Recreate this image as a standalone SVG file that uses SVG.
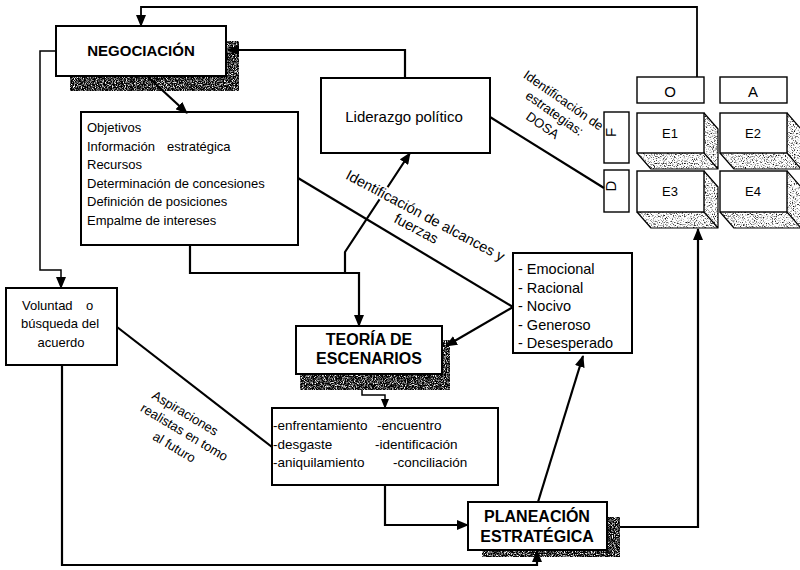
<svg xmlns="http://www.w3.org/2000/svg" width="800" height="570" viewBox="0 0 800 570">
  <defs>
    <style>
      text { font-family: "Liberation Sans", Arial, sans-serif; fill: #000; }
      .box { fill: #fff; stroke: #000; stroke-width: 2; }
      .thin { fill: #fff; stroke: #000; stroke-width: 1.4; }
      .title { font-weight: bold; font-size: 16px; text-anchor: middle; }
      .item { font-size: 13px; }
      .list { font-size: 14.5px; }
      .lbl { font-size: 13px; text-anchor: middle; }
      .cell { font-size: 13px; text-anchor: middle; }
      .head { font-size: 15px; text-anchor: middle; }
      .shadow { fill: #555; filter: url(#grainDark); }
      .face { fill: #ddd; filter: url(#grainLight); }
      .edge { fill: none; stroke: #000; stroke-width: 1.2; stroke-linejoin: round; }
      .wire { fill: none; stroke: #000; stroke-width: 2.2; stroke-linejoin: miter; }
      .wire-thin { fill: none; stroke: #000; stroke-width: 1.5; }
      .halo { stroke: #fff; stroke-width: 4; paint-order: stroke; stroke-linejoin: round; }
    </style>
    <!-- grainy textures for drop shadows and the extruded faces -->
    <filter id="grainDark" color-interpolation-filters="sRGB" x="0" y="0" width="1" height="1">
      <feTurbulence type="fractalNoise" baseFrequency="0.9" numOctaves="2" seed="4" result="n"/>
      <feColorMatrix in="n" type="matrix" values="3.2 0 0 0 -1.4  3.2 0 0 0 -1.4  3.2 0 0 0 -1.4  0 0 0 0 1" result="g"/>
      <feComposite in="g" in2="SourceGraphic" operator="in"/>
    </filter>
    <filter id="grainLight" color-interpolation-filters="sRGB" x="0" y="0" width="1" height="1">
      <feTurbulence type="fractalNoise" baseFrequency="0.9" numOctaves="2" seed="9" result="n"/>
      <feColorMatrix in="n" type="matrix" values="3.2 0 0 0 -0.6  3.2 0 0 0 -0.6  3.2 0 0 0 -0.6  0 0 0 0 1" result="g"/>
      <feComposite in="g" in2="SourceGraphic" operator="in"/>
    </filter>
    <marker id="arrow" markerUnits="userSpaceOnUse" markerWidth="12" markerHeight="10" refX="11" refY="5" orient="auto">
      <path d="M0,0 L12,5 L0,10 z" fill="#000"/>
    </marker>
    <marker id="arrowSmall" markerUnits="userSpaceOnUse" markerWidth="10" markerHeight="8" refX="9" refY="4" orient="auto">
      <path d="M0,0 L10,4 L0,8 z" fill="#000"/>
    </marker>
  </defs>

  <rect width="800" height="570" fill="#fff"/>

  <!-- NEGOCIACIÓN -->
  <g id="negociacion">
    <rect class="shadow" x="70" y="41" width="169" height="50"/>
    <rect class="box" x="56" y="26" width="170" height="50"/>
    <text class="title" x="141" y="56" style="font-size:15px">NEGOCIACIÓN</text>
  </g>

  <!-- Elementos de la negociación -->
  <g id="elementos">
    <rect class="box" x="81" y="112" width="217" height="133"/>
    <text class="item" x="87" y="132">Objetivos</text>
    <text class="item" x="87" y="150.5">Información<tspan x="167">estratégica</tspan></text>
    <text class="item" x="87" y="169">Recursos</text>
    <text class="item" x="87" y="187.5">Determinación de concesiones</text>
    <text class="item" x="87" y="206">Definición de posiciones</text>
    <text class="item" x="87" y="224.5">Empalme de intereses</text>
  </g>

  <!-- Liderazgo político -->
  <g id="liderazgo">
    <rect class="box" x="321" y="78" width="169" height="75"/>
    <text x="404" y="122" style="font-size:15px;text-anchor:middle">Liderazgo político</text>
  </g>

  <!-- Voluntad o búsqueda del acuerdo -->
  <g id="voluntad">
    <rect class="box" x="6" y="288" width="111" height="77"/>
    <text class="item" x="22" y="310">Voluntad<tspan x="86">o</tspan></text>
    <text class="item" x="60" y="328" text-anchor="middle">búsqueda del</text>
    <text class="item" x="61" y="347" text-anchor="middle">acuerdo</text>
  </g>

  <!-- Tipos de actor -->
  <g id="actores">
    <rect class="box" x="513" y="253" width="119" height="100"/>
    <text class="list" x="518" y="274">- Emocional</text>
    <text class="list" x="518" y="292.5">- Racional</text>
    <text class="list" x="518" y="311">- Nocivo</text>
    <text class="list" x="518" y="329.5">- Generoso</text>
    <text class="list" x="518" y="348">- Desesperado</text>
  </g>

  <!-- TEORÍA DE ESCENARIOS -->
  <g id="teoria">
    <rect class="shadow" x="300" y="340" width="150" height="50"/>
    <rect class="box" x="296" y="326" width="146" height="48"/>
    <text class="title" x="369" y="345">TEORÍA DE</text>
    <text class="title" x="369" y="364">ESCENARIOS</text>
  </g>

  <!-- Escenarios -->
  <g id="escenarios">
    <rect class="box" x="272" y="408" width="226" height="77"/>
    <text x="273" y="430" style="font-size:13.5px">-enfrentamiento<tspan x="377">-encuentro</tspan></text>
    <text x="273" y="449" style="font-size:13.5px">-desgaste<tspan x="375">-identificación</tspan></text>
    <text x="273" y="467" style="font-size:13.5px">-aniquilamiento<tspan x="393">-conciliación</tspan></text>
  </g>

  <!-- PLANEACIÓN ESTRATÉGICA -->
  <g id="planeacion">
    <rect class="shadow" x="482" y="517" width="138" height="40"/>
    <rect class="box" x="468" y="502" width="139" height="48"/>
    <text class="title" x="537" y="522">PLANEACIÓN</text>
    <text class="title" x="537" y="542">ESTRATÉGICA</text>
  </g>

  <!-- Label of the link towards the DOFA matrix (partly hidden by row F) -->
  <g id="etiqueta-dosa">
    <text class="lbl" x="561" y="104" transform="rotate(35 561 104)">Identificación de</text>
    <text class="lbl" x="552" y="117" transform="rotate(35 552 117)">estrategias:</text>
    <text class="lbl" x="540" y="129" transform="rotate(35 540 129)">DOSA</text>
  </g>

  <!-- Matriz DOFA -->
  <g id="matriz">
    <g id="col-O">
      <rect class="thin" x="637" y="77" width="67" height="26"/>
      <text class="head" x="670" y="97">O</text>
    </g>
    <g id="col-A">
      <rect class="thin" x="720" y="77" width="67" height="26"/>
      <text class="head" x="753" y="97">A</text>
    </g>
    <g id="row-F">
      <rect class="thin" x="604" y="112" width="25" height="51"/>
      <text class="head" x="621" y="137.5" transform="rotate(-90 616 137.5)">F</text>
    </g>
    <g id="row-D">
      <rect class="thin" x="604" y="170" width="25" height="42"/>
      <text class="head" x="621" y="191" transform="rotate(-90 616 191)">D</text>
    </g>
    <g id="E1">
      <polygon class="face" points="704,113 718,129 718,169 704,153"/>
      <polygon class="face" points="637,153 704,153 718,169 651,169"/>
      <path class="edge" d="M704,113 L718,129 L718,169 L651,169 L637,153 M704,153 L718,169"/>
      <rect class="thin" x="637" y="113" width="67" height="40"/>
      <text class="cell" x="670" y="138">E1</text>
    </g>
    <g id="E2">
      <polygon class="face" points="787,113 801,129 801,169 787,153"/>
      <polygon class="face" points="720,153 787,153 801,169 734,169"/>
      <path class="edge" d="M787,113 L801,129 L801,169 L734,169 L720,153 M787,153 L801,169"/>
      <rect class="thin" x="720" y="113" width="67" height="40"/>
      <text class="cell" x="753" y="138">E2</text>
    </g>
    <g id="E3">
      <polygon class="face" points="704,171 718,187 718,228 704,212"/>
      <polygon class="face" points="637,212 704,212 718,228 651,228"/>
      <path class="edge" d="M704,171 L718,187 L718,228 L651,228 L637,212 M704,212 L718,228"/>
      <rect class="thin" x="637" y="171" width="67" height="41"/>
      <text class="cell" x="670" y="196">E3</text>
    </g>
    <g id="E4">
      <polygon class="face" points="787,171 801,187 801,228 787,212"/>
      <polygon class="face" points="720,212 787,212 801,228 734,228"/>
      <path class="edge" d="M787,171 L801,187 L801,228 L734,228 L720,212 M787,212 L801,228"/>
      <rect class="thin" x="720" y="171" width="67" height="41"/>
      <text class="cell" x="753" y="196">E4</text>
    </g>
  </g>

  <!-- Connectors -->
  <g id="conectores">
    <!-- retorno de la matriz a la negociación -->
    <polyline class="wire" style="stroke-width:1.8" points="697,77 697,7 141,7 141,26" marker-end="url(#arrow)"/>
    <!-- negociación a voluntad -->
    <polyline class="wire-thin" points="56,51 40,51 40,270 61,270 61,288" marker-end="url(#arrow)"/>
    <!-- negociación a elementos -->
    <line class="wire" x1="148" y1="77" x2="187" y2="113" marker-end="url(#arrow)"/>
    <!-- liderazgo a negociación -->
    <polyline class="wire" points="405,78 405,50 228,50" marker-end="url(#arrow)"/>
    <!-- elementos a teoría -->
    <polyline class="wire" points="190,245 190,273 359,273 359,326" marker-end="url(#arrow)"/>
    <!-- hacia liderazgo -->
    <polyline class="wire" points="345,273 345,252 410,153" marker-end="url(#arrow)"/>
    <!-- elementos a actores -->
    <line class="wire" x1="298" y1="178" x2="513" y2="307"/>
    <!-- actores a teoría -->
    <line class="wire" x1="513" y1="307" x2="446" y2="346" marker-end="url(#arrow)"/>
    <!-- liderazgo a la matriz -->
    <line class="wire" x1="490" y1="117" x2="604" y2="188"/>
    <!-- voluntad a escenarios -->
    <line class="wire" x1="117" y1="327" x2="272" y2="447"/>
    <!-- teoría a escenarios -->
    <polyline class="wire-thin" points="362,390 362,395 385,395 385,408" marker-end="url(#arrowSmall)"/>
    <!-- escenarios a planeación -->
    <polyline class="wire" points="385,485 385,525 468,525" marker-end="url(#arrow)"/>
    <!-- planeación a actores -->
    <line class="wire" x1="538" y1="502" x2="583" y2="356" marker-end="url(#arrow)"/>
    <!-- planeación a la matriz -->
    <polyline class="wire" points="620,527 698,527 698,229" marker-end="url(#arrow)"/>
    <!-- voluntad a planeación -->
    <polyline class="wire" points="62,365 62,565 537,565 537,551" marker-end="url(#arrow)"/>
  </g>

  <!-- Labels drawn over the wires they interrupt -->
  <g id="etiquetas">
    <text class="halo" x="423" y="220" transform="rotate(28 423 220)" style="font-size:14.5px;text-anchor:middle">Identificación de alcances y</text>
    <text class="halo" x="414" y="233" transform="rotate(28 414 233)" style="font-size:14.5px;text-anchor:middle">fuerzas</text>
    <text class="lbl" x="183" y="417" transform="rotate(31 183 417)">Aspiraciones</text>
    <text class="lbl" x="182" y="436" transform="rotate(31 182 436)">realistas en tomo</text>
    <text class="lbl" x="172" y="451" transform="rotate(31 172 451)">al futuro</text>
  </g>
</svg>
